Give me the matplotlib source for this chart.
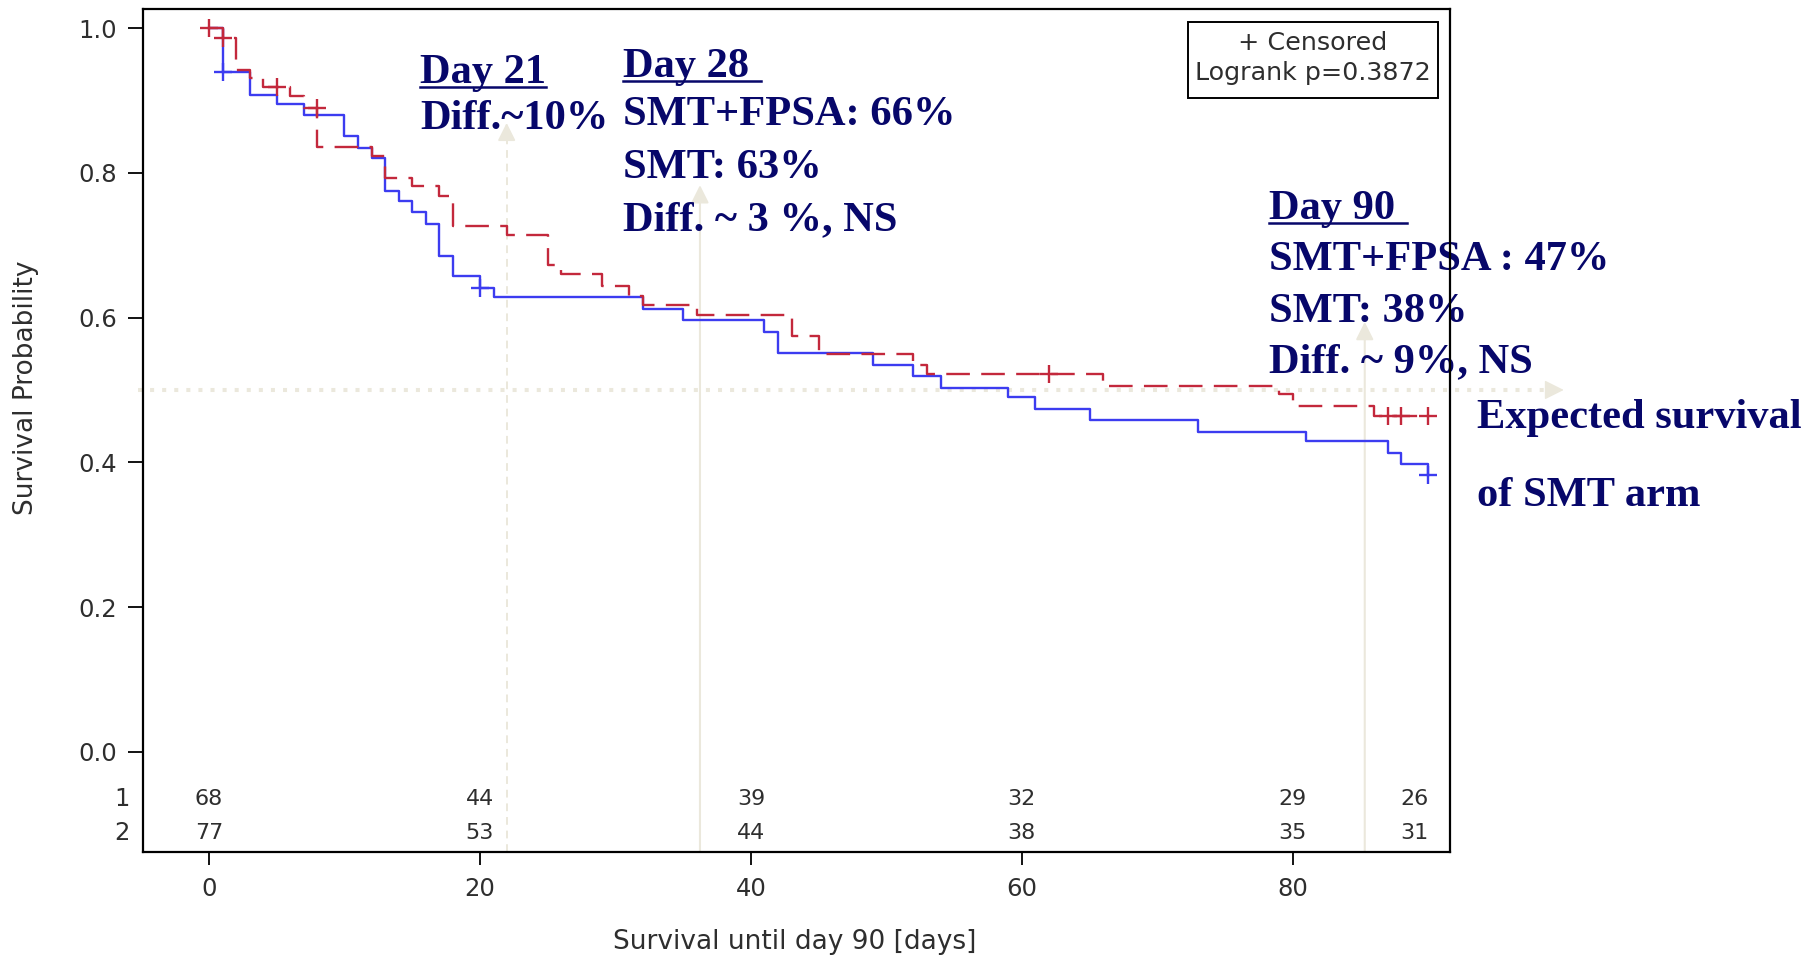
import matplotlib
matplotlib.use('Agg')
import matplotlib.pyplot as plt
import matplotlib.transforms as mtransforms
from matplotlib.lines import Line2D
from matplotlib.patches import Rectangle

# Kaplan-Meier estimates (step changes), SMT+FPSA arm = group 1, SMT arm = group 2
fpsa_time = [0, 1, 2, 3, 4, 6, 7, 8, 12, 13, 15, 17, 18, 22, 25, 26, 29, 31, 32,
             36, 43, 45, 52, 53, 66, 79, 80, 86, 90]
fpsa_surv = [1.0, 0.986, 0.942, 0.931, 0.918, 0.906, 0.889, 0.836, 0.823, 0.793,
             0.782, 0.768, 0.727, 0.714, 0.672, 0.660, 0.644, 0.630, 0.618, 0.603,
             0.575, 0.549, 0.535, 0.522, 0.506, 0.494, 0.478, 0.464, 0.464]
fpsa_cens_time = [0, 1, 5, 8, 62, 87, 88, 90]
fpsa_cens_surv = [1.0, 0.986, 0.918, 0.889, 0.522, 0.464, 0.464, 0.464]

smt_time = [0, 1, 3, 5, 7, 10, 11, 12, 13, 14, 15, 16, 17, 18, 20, 21, 32, 35,
            41, 42, 49, 52, 54, 59, 61, 65, 73, 81, 87, 88, 90]
smt_surv = [1.0, 0.940, 0.908, 0.895, 0.880, 0.851, 0.835, 0.820, 0.775, 0.761,
            0.746, 0.730, 0.685, 0.657, 0.641, 0.628, 0.612, 0.596, 0.580, 0.551,
            0.535, 0.519, 0.503, 0.490, 0.474, 0.458, 0.442, 0.430, 0.413, 0.398,
            0.382]
smt_cens_time = [1, 20, 90]
smt_cens_surv = [0.940, 0.641, 0.382]

# numbers at risk
risk_time = [0, 20, 40, 60, 80, 89]
risk_grp1 = [68, 44, 39, 32, 29, 26]
risk_grp2 = [77, 53, 44, 38, 35, 31]

expected_surv = 0.5
logrank_p = 0.3872

RED = '#c3283c'
BLUE = '#3c3cf0'
GREY_TXT = '#2e2e2e'
NAVY = '#07076a'
BEIGE = '#ebe8dc'
SANS = 'DejaVu Sans'
SERIF = 'Liberation Serif'

fig = plt.figure(figsize=(18.05, 9.58), dpi=100)
ax = fig.add_axes([0.0794, 0.1110, 0.7239, 0.8793])
ax.set_xlim(-4.85, 91.6)
ax.set_ylim(-0.138, 1.026)

# curves
ax.step(smt_time, smt_surv, where='post', color=BLUE, lw=1.7, zorder=4)
red_line, = ax.step(fpsa_time, fpsa_surv, where='post', color=RED, lw=1.7, zorder=4)
red_line.set_dashes((10, 4.8))
ax.plot(smt_cens_time, smt_cens_surv, ls='none', marker='+', ms=13, mew=1.7,
        color=BLUE, zorder=5)
ax.plot(fpsa_cens_time, fpsa_cens_surv, ls='none', marker='+', ms=13, mew=1.7,
        color=RED, zorder=5)

# axes styling
for sp in ax.spines.values():
    sp.set_linewidth(1.6)
    sp.set_color('black')
ax.set_xticks([0, 20, 40, 60, 80])
ax.set_xticklabels(['0', '20', '40', '60', '80'], family=SANS)
yt = [0.0, 0.2, 0.4, 0.6, 0.8, 1.0]
ax.set_yticks(yt)
ax.set_yticklabels([f'{v:.1f}' for v in yt], family=SANS)
ax.tick_params(axis='x', direction='out', length=9.5, width=1.3, pad=9,
               labelsize=17.5, color='black', labelcolor=GREY_TXT)
ax.tick_params(axis='y', direction='out', length=10.8, width=1.3, pad=8,
               labelsize=17.5, color='black', labelcolor=GREY_TXT)

ax.text(-0.090, 0.5505, 'Survival Probability', rotation=90, ha='center',
        va='center', transform=ax.transAxes, fontsize=19, family=SANS,
        color=GREY_TXT)
ax.text(0.4987, -0.107, 'Survival until day 90 [days]', ha='center', va='center',
        transform=ax.transAxes, fontsize=19, family=SANS, color=GREY_TXT)

# at-risk table inside the plot area
row_tr = mtransforms.blended_transform_factory(ax.transAxes, ax.transData)
for lab, yv, counts in [('1', -0.065, risk_grp1), ('2', -0.112, risk_grp2)]:
    ax.text(-0.0102, yv, lab, ha='right', va='center', transform=row_tr,
            fontsize=17.5, family=SANS, color=GREY_TXT)
    for t, n in zip(risk_time, counts):
        ax.text(t, yv, str(n), ha='center', va='center', fontsize=16,
                family=SANS, color=GREY_TXT)

# censor / logrank box
ax.add_patch(Rectangle((0.7995, 0.8947), 0.1913, 0.0902, transform=ax.transAxes,
                       fill=False, lw=1.4, ec='black', zorder=6))
ax.text(0.895, 0.960, '+ Censored', ha='center', va='center',
        transform=ax.transAxes, fontsize=18.3, family=SANS, color=GREY_TXT)
ax.text(0.895, 0.9243, f'Logrank p={logrank_p}', ha='center', va='center',
        transform=ax.transAxes, fontsize=18.3, family=SANS, color=GREY_TXT)

# pointer arrows
y_bot = ax.get_ylim()[0]
head = '-|>,head_length=0.9,head_width=0.45'
x21, tip21 = 21.97, 0.869
ax.plot([x21, x21], [y_bot, tip21 - 0.015], color=BEIGE, lw=1.4, ls=(0, (4, 3)),
        zorder=2)
ax.annotate('', xy=(x21, tip21), xytext=(x21, tip21 - 0.018),
            arrowprops=dict(arrowstyle=head, color=BEIGE, lw=1.4, shrinkA=0,
                            shrinkB=0, mutation_scale=12))
for xa, tip in [(36.24, 0.783), (85.31, 0.594)]:
    ax.annotate('', xy=(xa, tip), xytext=(xa, y_bot),
                arrowprops=dict(arrowstyle=head, color=BEIGE, lw=1.5, shrinkA=0,
                                shrinkB=0, mutation_scale=12), zorder=2)

# expected survival reference line
ax.plot([-5.24, 98.9], [expected_surv, expected_surv], color=BEIGE, lw=2.9,
        ls=(0, (1, 2)), clip_on=False, zorder=2)
ax.annotate('', xy=(100.0, expected_surv), xytext=(98.9, expected_surv),
            annotation_clip=False,
            arrowprops=dict(arrowstyle='-|>,head_length=1.0,head_width=0.5',
                            color=BEIGE, lw=1, shrinkA=0, shrinkB=0,
                            mutation_scale=12))

# call-out text
txt = dict(family=SERIF, fontweight='bold', fontsize=30.6, color=NAVY,
           va='baseline', ha='left', zorder=2)
heads = []
heads.append((ax.text(15.57, 0.924, 'Day 21', **txt), 0))
ax.text(15.57, 0.860, 'Diff.~10%', **txt)
heads.append((ax.text(30.53, 0.933, 'Day 28', **txt), 12))
ax.text(30.53, 0.866, 'SMT+FPSA: 66%', **txt)
ax.text(30.53, 0.793, 'SMT: 63%', **txt)
ax.text(30.53, 0.721, 'Diff. ~ 3 %, NS', **txt)
heads.append((ax.text(78.25, 0.736, 'Day 90', **txt), 12))
ax.text(78.25, 0.666, 'SMT+FPSA : 47%', **txt)
ax.text(78.25, 0.594, 'SMT: 38%', **txt)
ax.text(78.25, 0.525, 'Diff. ~ 9%, NS', **txt)
ax.text(93.56, 0.447, 'Expected survival', **txt)
ax.text(93.56, 0.340, 'of SMT arm', **txt)

# underline the day headings
fig.canvas.draw()
ident = mtransforms.IdentityTransform()
for t, extra in heads:
    bb = t.get_window_extent()
    yb = ax.transData.transform(t.get_position())[1] - 4
    fig.add_artist(Line2D([bb.x0, bb.x1 + extra], [yb, yb], transform=ident,
                          color=NAVY, lw=1.8))

fig.savefig('out.png', dpi=100)
